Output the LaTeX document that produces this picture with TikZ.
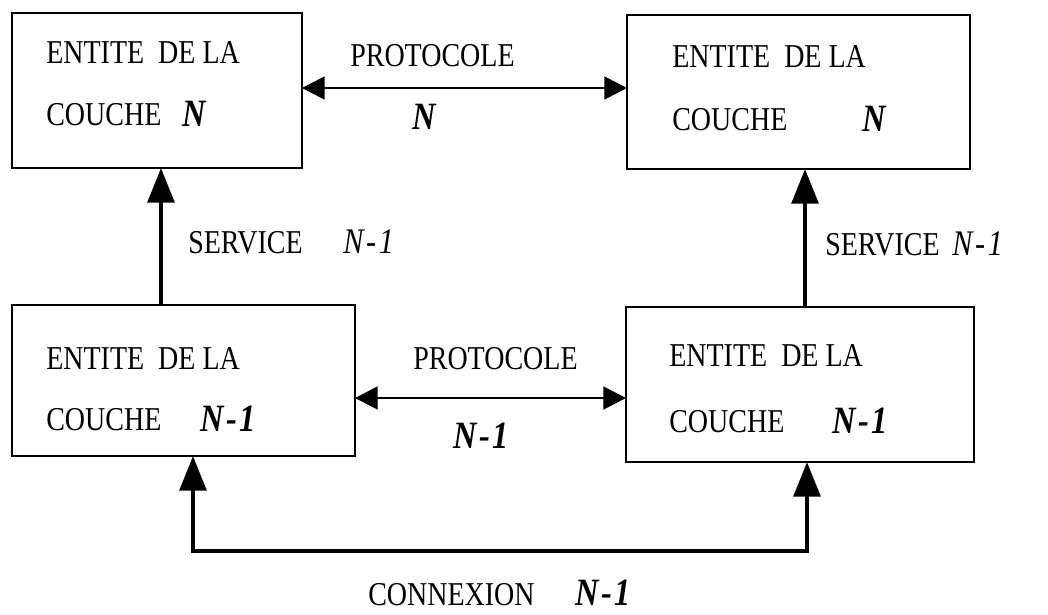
\documentclass[tikz,border=0pt]{standalone}
\usepackage{fontspec}
\setmainfont{Liberation Serif}[FakeStretch=0.84]
\usetikzlibrary{arrows.meta}
\newcommand{\nmone}{N\kern2pt-\kern2pt1}
\begin{document}
\begin{tikzpicture}[x=0.75pt,y=-0.75pt,
  box/.style={draw, line width=1.8pt, inner sep=0pt, outer sep=0pt},
  txt/.style={anchor=base west, inner sep=0pt, font=\fontsize{25}{30}\selectfont},
  nbf/.style={anchor=base west, inner sep=0pt, font=\fontsize{29}{30}\selectfont\bfseries\itshape},
  nit/.style={anchor=base west, inner sep=0pt, font=\fontsize{27}{30}\selectfont\itshape},
  hline/.style={line width=2.2pt, {Triangle[length=17pt,width=17pt]}-{Triangle[length=17pt,width=17pt]}},
  vline/.style={line width=3pt, -{Triangle[length=26pt,width=20pt]}},
  cline/.style={line width=3pt, {Triangle[length=26pt,width=20pt]}-{Triangle[length=26pt,width=20pt]}}
]
\useasboundingbox (0,0) rectangle (1048,614);
\fill[white] (0,0) rectangle (1048,614);

% boxes
\node[box, minimum width=217.5pt, minimum height=116.25pt] (TL) at (157,90.5) {};
\node[box, minimum width=257.25pt, minimum height=115.5pt] (TR) at (798.5,92) {};
\node[box, minimum width=257.25pt, minimum height=113.25pt] (BL) at (183.5,380.5) {};
\node[box, minimum width=261pt, minimum height=116.25pt] (BR) at (800,384.5) {};

% box texts
\node[txt] (tl1) at (46,63) {ENTITE~~DE LA};
\node[txt] (tl2) at (46,125) {COUCHE};
\node[nbf] (tl3) at (182,126) {N};

\node[txt] (tr1) at (672,67) {ENTITE~~DE LA};
\node[txt] (tr2) at (672,130) {COUCHE};
\node[nbf] (tr3) at (862,131) {N};

\node[txt] (bl1) at (46,369) {ENTITE~~DE LA};
\node[txt] (bl2) at (46,430) {COUCHE};
\node[nbf] (bl3) at (200,431) {\nmone};

\node[txt] (br1) at (669,366) {ENTITE~~DE LA};
\node[txt] (br2) at (669,432) {COUCHE};
\node[nbf] (br3) at (832,433) {\nmone};

% helper coordinates
\coordinate (pn) at (0,88);
\coordinate (pm) at (0,398);
\coordinate (sl) at (161,0);
\coordinate (sr) at (805,0);
\coordinate (cl) at (193,551);
\coordinate (cr) at (807,551);

% protocol arrows
\draw[hline] (TL.east |- pn) -- (TR.west |- pn);
\draw[hline] (BL.east |- pm) -- (BR.west |- pm);

% service arrows
\draw[vline] (BL.north -| sl) -- (TL.south -| sl);
\draw[vline] (BR.north -| sr) -- (TR.south -| sr);

% connexion
\draw[cline] (BL.south -| cl) -- (cl) -- (cr) -- (BR.south -| cr);

% labels
\node[txt] (p1) at (350,66) {PROTOCOLE};
\node[nbf] (p1n) at (412,129) {N};
\node[txt] (s1) at (188,253) {SERVICE};
\node[nit] (s1n) at (343,253) {\nmone};
\node[txt] (s2) at (825,255) {SERVICE};
\node[nit] (s2n) at (952,255) {\nmone};
\node[txt] (p2) at (413,369) {PROTOCOLE};
\node[nbf] (p2n) at (453,448) {\nmone};
\node[txt] (c1) at (368,605) {CONNEXION};
\node[nbf] (c1n) at (575,605) {\nmone};
\end{tikzpicture}
\end{document}
